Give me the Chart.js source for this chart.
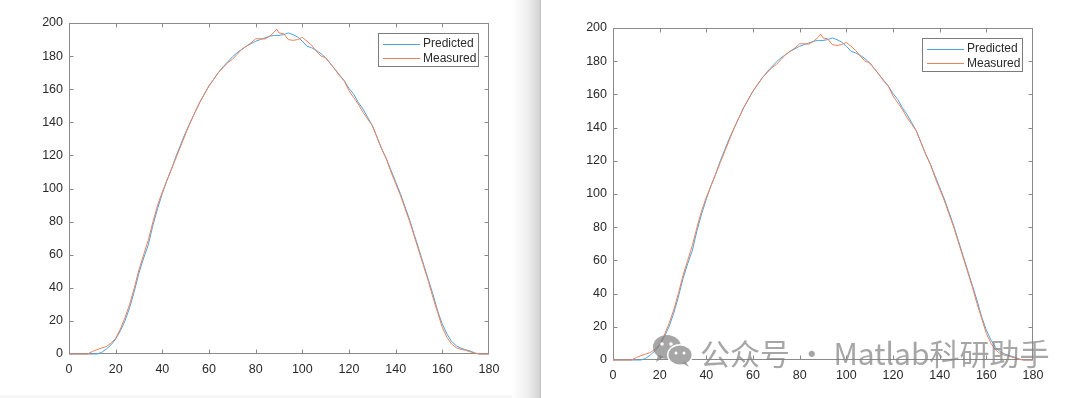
<!DOCTYPE html>
<html>
<head>
<meta charset="utf-8">
<script src="https://cdn.jsdelivr.net/npm/chart.js@4.4.1/dist/chart.umd.min.js"></script>
<style>
  html, body { margin: 0; padding: 0; background: #fff; }
  body { width: 1080px; height: 398px; position: relative; overflow: hidden; }
  canvas { position: absolute; top: 0; }
  #left { left: 0; }
  #right { left: 541px; }
  .shade { position: absolute; left: 512px; top: 0; width: 28px; height: 398px;
           background: linear-gradient(to right, #ffffff, #efefef 55%, #d2d2d2); }
  .edge { position: absolute; left: 540px; top: 0; width: 1px; height: 398px; background: #c2c2c2; }
  .foot { position: absolute; left: 0; top: 395px; width: 512px; height: 3px; background: #f6f6f6; }
  .mark { position: absolute; left: 652px; top: 332px; height: 40px; white-space: nowrap;
          font-family: "Noto Sans CJK SC", sans-serif; font-size: 30px; line-height: 40px;
          color: rgba(128,128,128,0.7); }
  .mark svg { position: absolute; left: 0; top: 2px; }
  .mark span { position: absolute; left: 48px; top: 0; }
</style>
</head>
<body>
<canvas id="left" width="512" height="398"></canvas>
<div class="shade"></div>
<div class="edge"></div>
<div class="foot"></div>
<canvas id="right" width="539" height="398"></canvas>
<div class="mark">
  <svg width="44" height="34" viewBox="0 0 44 34">
    <ellipse cx="15" cy="13" rx="14" ry="12" fill="rgba(128,128,128,0.7)"/>
    <path d="M6 21 L4 28 L12 23 Z" fill="rgba(128,128,128,0.7)"/>
    <ellipse cx="28" cy="21" rx="13" ry="11" fill="#fff"/>
    <ellipse cx="28" cy="21" rx="11.5" ry="9.5" fill="rgba(128,128,128,0.7)"/>
    <path d="M34 28 L37 33 L30 29 Z" fill="rgba(128,128,128,0.7)"/>
    <circle cx="10" cy="10" r="1.8" fill="#fff"/>
    <circle cx="19" cy="10" r="1.8" fill="#fff"/>
    <circle cx="24" cy="19" r="1.5" fill="#fff"/>
    <circle cx="32" cy="19" r="1.5" fill="#fff"/>
  </svg>
  <span>公众号 · Matlab科研助手</span>
</div>
<script>
// tick labels
const xTickValues = [0, 20, 40, 60, 80, 100, 120, 140, 160, 180];
const yTickValues = [0, 20, 40, 60, 80, 100, 120, 140, 160, 180, 200];

// measured profile (orange)
const xMeasured = [0, 2, 4, 6, 8, 10, 12, 14, 16, 18, 20, 22, 24, 26, 28, 30, 32, 34, 36, 38,
  40, 42, 44, 46, 48, 50, 52, 54, 56, 58, 60, 62, 64, 66, 68, 70, 72, 74, 76, 78,
  80, 82, 84, 86, 88, 89, 90, 92, 94, 96, 98, 100, 102, 104, 106, 108, 110, 112, 114, 116,
  118, 120, 122, 124, 126, 128, 130, 132, 134, 136, 138, 140, 142, 144, 146, 148, 150, 152, 154, 156,
  158, 160, 162, 164, 166, 168, 170, 172, 174, 176, 178, 180];
const measured = [0, 0, 0, 0, 0, 1.5, 2.6, 3.6, 4.5, 6.5, 9.5, 15, 22, 30, 40, 51, 60, 69, 80, 90,
  98, 105, 112, 119, 126, 133, 140, 146, 152, 157, 162, 166, 170, 173, 176, 178, 181, 184, 186, 188,
  190.5, 190.5, 190.3, 192, 194.5, 196.3, 194, 193.5, 190, 189.5, 190, 191.3, 189, 186.5, 183, 180, 179, 175.5, 172, 168,
  165, 159, 155, 151, 146, 142, 138, 131, 124, 118, 110, 103, 96, 88, 80, 71, 62, 53, 44, 34,
  25, 16, 10, 6, 3.8, 2.8, 2.2, 1.3, 0.4, 0, 0, 0];

// predicted profile (blue)
const xPredicted = [0, 2, 4, 6, 8, 10, 12, 14, 16, 18, 20, 22, 24, 26, 28, 30, 32, 34, 36, 38,
  40, 42, 44, 46, 48, 50, 52, 54, 56, 58, 60, 62, 64, 66, 68, 70, 72, 74, 76, 78,
  80, 82, 84, 86, 88, 90, 92, 94, 96, 98, 100, 102, 104, 106, 108, 110, 112, 114, 116, 118,
  120, 122, 124, 126, 128, 130, 132, 134, 136, 138, 140, 142, 144, 146, 148, 150, 152, 154, 156, 158,
  160, 162, 164, 166, 168, 170, 172, 174, 176, 178, 180];
const predicted = [0, 0, 0, 0, 0, 0, 0, 1, 3, 5.5, 9, 14, 20, 28, 38, 49, 58, 66, 78, 88,
  97, 105, 112, 120, 127, 134, 140, 146, 152, 157, 162, 166, 170, 173.5, 176.5, 179.5, 182, 184, 186, 187.5,
  189, 190, 191, 192, 192.5, 192.5, 193, 194, 193, 191.5, 189, 186, 185, 183.5, 181.5, 179, 175.5, 172, 168.5, 165,
  160.5, 157, 152, 148, 143, 138, 131, 124, 118, 111, 104, 97, 89, 81, 72, 63, 54, 45, 36, 26,
  18, 12, 7.5, 5, 3.5, 2.6, 1.8, 0.6, 0, 0, 0];

const FONT = "'Liberation Sans', Arial, Helvetica, sans-serif";
const FSIZE = 12.5;
const AXIS = '#8a8a8a';
const TEXT = '#2a2a2a';

const toPoints = (xs, ys) => xs.map((x, i) => ({ x: x, y: ys[i] }));

// box round the axes with inward ticks on every side
const axesBox = {
  id: 'axesBox',
  beforeDatasetsDraw(chart) {
    const { ctx, chartArea: a, scales } = chart;
    const L = Math.round(a.left) + 0.5, R = Math.round(a.right) - 0.5;
    const T = Math.round(a.top) + 0.5, B = Math.round(a.bottom) - 0.5;
    ctx.save();
    ctx.strokeStyle = AXIS;
    ctx.lineWidth = 1;
    ctx.strokeRect(L, T, R - L, B - T);
    ctx.beginPath();
    scales.x.ticks.forEach(t => {
      const px = Math.round(scales.x.getPixelForValue(t.value)) + 0.5;
      if (px <= L + 1 || px >= R - 1) return;
      ctx.moveTo(px, B); ctx.lineTo(px, B - 4);
      ctx.moveTo(px, T); ctx.lineTo(px, T + 4);
    });
    scales.y.ticks.forEach(t => {
      const py = Math.round(scales.y.getPixelForValue(t.value)) + 0.5;
      if (py <= T + 1 || py >= B - 1) return;
      ctx.moveTo(L, py); ctx.lineTo(L + 4, py);
      ctx.moveTo(R, py); ctx.lineTo(R - 4, py);
    });
    ctx.stroke();
    ctx.restore();
  }
};

// MATLAB style legend in the top right corner
const boxLegend = {
  id: 'boxLegend',
  afterDraw(chart) {
    const { ctx, chartArea: a } = chart;
    const w = 101, h = 34;
    const x = Math.round(a.right) - 10 - w, y = Math.round(a.top) + 10;
    ctx.save();
    ctx.fillStyle = '#fff';
    ctx.fillRect(x, y, w, h);
    ctx.strokeStyle = '#7c7c7c';
    ctx.lineWidth = 1;
    ctx.strokeRect(x + 0.5, y + 0.5, w - 1, h - 1);
    ctx.font = '12px ' + FONT;
    ctx.textBaseline = 'middle';
    chart.data.datasets.forEach((ds, i) => {
      const cy = y + 10.5 + i * 14.5;
      ctx.strokeStyle = ds.borderColor;
      ctx.beginPath();
      ctx.moveTo(x + 5, Math.round(cy) + 0.5);
      ctx.lineTo(x + 42, Math.round(cy) + 0.5);
      ctx.stroke();
      ctx.fillStyle = TEXT;
      ctx.fillText(ds.label, x + 45, cy + 0.5);
    });
    ctx.restore();
  }
};

function makeChart(id, g) {
  const ctx = document.getElementById(id).getContext('2d');
  return new Chart(ctx, {
    type: 'line',
    data: {
      datasets: [{
        label: 'Predicted',
        data: toPoints(xPredicted, predicted),
        borderColor: 'rgb(72,164,226)',
        borderWidth: 1,
        pointRadius: 0,
        tension: 0,
        clip: false,
        order: 1
      }, {
        label: 'Measured',
        data: toPoints(xMeasured, measured),
        borderColor: 'rgb(240,128,88)',
        borderWidth: 1,
        pointRadius: 0,
        tension: 0,
        clip: false,
        order: 0
      }]
    },
    options: {
      responsive: false,
      animation: false,
      devicePixelRatio: 1,
      layout: { padding: { left: 0, top: g.top, right: g.right, bottom: 0 } },
      plugins: { legend: { display: false }, tooltip: { enabled: false } },
      scales: {
        x: {
          type: 'linear', min: 0, max: 180,
          grid: { display: false, drawTicks: false }, border: { display: false },
          afterBuildTicks: s => { s.ticks = xTickValues.map(v => ({ value: v })); },
          afterFit: s => { s.height = g.xh; },
          ticks: { color: TEXT, font: { family: FONT, size: FSIZE }, padding: 8, maxRotation: 0, autoSkip: false }
        },
        y: {
          type: 'linear', min: 0, max: 200,
          grid: { display: false, drawTicks: false }, border: { display: false },
          afterBuildTicks: s => { s.ticks = yTickValues.map(v => ({ value: v })); },
          afterFit: s => { s.width = g.yw; },
          ticks: { color: TEXT, font: { family: FONT, size: FSIZE }, padding: 6, autoSkip: false }
        }
      }
    },
    plugins: [axesBox, boxLegend]
  });
}

makeChart('left', { top: 23, right: 23, yw: 69, xh: 44 });
makeChart('right', { top: 28, right: 47, yw: 72, xh: 38 });
</script>
</body>
</html>
